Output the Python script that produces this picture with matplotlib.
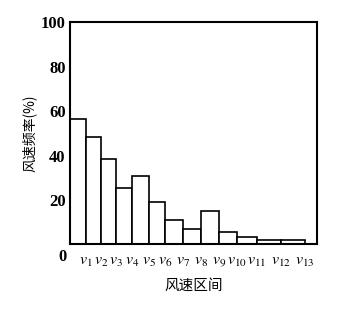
import numpy as np
import matplotlib
matplotlib.use("Agg")
import matplotlib.pyplot as plt

plt.rcParams['font.family'] = ['Liberation Serif', 'Noto Sans CJK SC']
plt.rcParams['mathtext.fontset'] = 'stix'

# bin boundaries of the wind speed intervals (0, v1 ... v13)
bin_edges = [0, 16, 31, 46, 62, 79, 95, 113, 131, 149, 167, 187, 211, 235]
freq = [56.4, 48.2, 38.6, 25.2, 30.6, 18.9, 11.1, 6.9, 14.9, 5.4, 3.3, 2.1, 2.1]
edge_labels = [r'$v_{%d}$' % i for i in range(1, 14)]
y_ticks = [20, 40, 60, 80, 100]

fig = plt.figure(figsize=(3.46, 3.12), dpi=100)
ax = fig.add_axes([0.202, 0.217, 0.714, 0.7115])

left = np.array(bin_edges[:-1])
width = np.diff(bin_edges)
ax.bar(left, freq, width=width, align='edge', facecolor='white',
       edgecolor='black', linewidth=1.2)

ax.set_xlim(0, 247)
ax.set_ylim(0, 100)
ax.set_yticks(y_ticks)
ax.set_yticklabels([str(t) for t in y_ticks], fontsize=12, fontweight='bold')
ax.set_xticks(bin_edges[1:])
ax.set_xticklabels(edge_labels, fontsize=11.5)
ax.tick_params(length=0)
ax.tick_params(axis='y', pad=3)
ax.tick_params(axis='x', pad=6)
for s in ax.spines.values():
    s.set_linewidth(1.5)

ax.text(-0.03, -0.058, '0', transform=ax.transAxes, fontsize=12,
        fontweight='bold', ha='center', va='center')

ax.set_ylabel('风速频率(%)', family=['Noto Sans CJK SC'], fontsize=10, labelpad=3)
ax.set_xlabel('风速区间', family=['Noto Sans CJK SC'], fontsize=10.5, labelpad=7)

fig.savefig('out.png', dpi=100)
